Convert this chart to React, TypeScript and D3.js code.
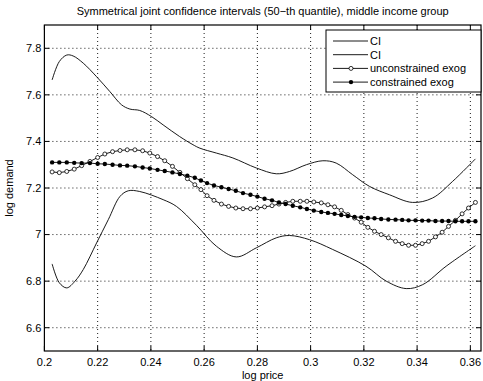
import React, { useEffect, useRef } from 'react';
import * as d3 from 'd3';

// shared price grid for the two marker series
const priceGrid = [
  0.2029, 0.2056, 0.2084, 0.2112, 0.214, 0.2171, 0.22, 0.2227, 0.2256, 0.2284,
  0.2311, 0.234, 0.2369, 0.2396, 0.2425, 0.2452, 0.2481, 0.2509, 0.2537, 0.2565,
  0.2588, 0.2611, 0.2637, 0.2665, 0.2692, 0.2719, 0.2746, 0.2774, 0.28, 0.2827,
  0.2855, 0.2881, 0.2906, 0.2933, 0.2961, 0.2986, 0.3012, 0.304, 0.3065, 0.309,
  0.3115, 0.314, 0.3165, 0.319, 0.3215, 0.324, 0.3265, 0.3292, 0.3319, 0.3344,
  0.3368, 0.3394, 0.3419, 0.3443, 0.3469, 0.3494, 0.3518, 0.3544, 0.3569, 0.3593,
  0.3619,
];

const unconstrained = [
  7.269, 7.266, 7.271, 7.281, 7.296, 7.314, 7.331, 7.346, 7.356, 7.361,
  7.364, 7.364, 7.36, 7.35, 7.335, 7.317, 7.293, 7.267, 7.24, 7.214,
  7.193, 7.167, 7.147, 7.131, 7.121, 7.114, 7.111, 7.111, 7.114, 7.119,
  7.124, 7.131, 7.138, 7.143, 7.143, 7.143, 7.14, 7.136, 7.128, 7.119,
  7.104, 7.086, 7.071, 7.053, 7.031, 7.014, 7.0, 6.986, 6.971, 6.961,
  6.954, 6.954, 6.961, 6.971, 6.99, 7.01, 7.035, 7.061, 7.089, 7.114,
  7.138,
];

const constrained = [
  7.31, 7.31, 7.31, 7.308, 7.307, 7.307, 7.304, 7.303, 7.3, 7.297,
  7.296, 7.293, 7.288, 7.284, 7.278, 7.273, 7.267, 7.26, 7.253, 7.244,
  7.232, 7.221, 7.211, 7.203, 7.196, 7.188, 7.178, 7.171, 7.163, 7.154,
  7.147, 7.138, 7.131, 7.124, 7.117, 7.11, 7.103, 7.097, 7.093, 7.089,
  7.084, 7.08, 7.076, 7.074, 7.071, 7.07, 7.067, 7.065, 7.064, 7.063,
  7.061, 7.061, 7.06, 7.06, 7.058, 7.058, 7.058, 7.057, 7.057, 7.057,
  7.057,
];

const upperX = [
  0.2029, 0.2056, 0.2084, 0.2108, 0.2146, 0.2196, 0.2246, 0.229, 0.2321, 0.2358,
  0.2402, 0.2446, 0.2508, 0.2558, 0.2584, 0.2646, 0.2708, 0.2796, 0.2871, 0.2921,
  0.2984, 0.3046, 0.3096, 0.3158, 0.3221, 0.3296, 0.3383, 0.3458, 0.3533, 0.3619,
];
const upperCI = [
  7.664, 7.743, 7.771, 7.767, 7.736, 7.678, 7.614, 7.557, 7.539, 7.533,
  7.507, 7.471, 7.421, 7.386, 7.371, 7.35, 7.329, 7.286, 7.261, 7.271,
  7.3, 7.317, 7.307, 7.257, 7.207, 7.171, 7.138, 7.157, 7.228, 7.325,
];

const lowerX = [
  0.2029, 0.2056, 0.2084, 0.2115, 0.2146, 0.2196, 0.224, 0.2284, 0.2315, 0.2358,
  0.2446, 0.2496, 0.2571, 0.2646, 0.2721, 0.2796, 0.2871, 0.2921, 0.2996, 0.3083,
  0.3208, 0.3284, 0.3359, 0.3421, 0.3509, 0.3619,
];
const lowerCI = [
  6.874, 6.793, 6.771, 6.8, 6.85, 6.964, 7.064, 7.164, 7.188, 7.185,
  7.15, 7.121, 7.04, 6.95, 6.904, 6.943, 6.986, 6.996, 6.978, 6.936,
  6.864, 6.8, 6.768, 6.785, 6.864, 6.952,
];

const xTicks = [0.2, 0.22, 0.24, 0.26, 0.28, 0.3, 0.32, 0.34, 0.36];
const yTicks = [6.6, 6.8, 7, 7.2, 7.4, 7.6, 7.8];
const legendLabels = ['CI', 'CI', 'unconstrained exog', 'constrained exog'];

const W = 483;
const H = 381;
const FONT = '"Liberation Sans", Arial, Helvetica, sans-serif';

const App: React.FC = () => {
  const ref = useRef<SVGSVGElement>(null);

  useEffect(() => {
    if (!ref.current) return;
    const margin = { top: 25, right: 2, bottom: 30, left: 44.4 };
    const iw = W - margin.left - margin.right;
    const ih = H - margin.top - margin.bottom;

    const svg = d3.select(ref.current);
    svg.selectAll('*').remove();

    const x = d3.scaleLinear().domain([0.2, 0.364]).range([0, iw]);
    const y = d3.scaleLinear().domain([6.5, 7.9]).range([ih, 0]);

    svg.append('text')
      .attr('x', margin.left + iw / 2)
      .attr('y', 15)
      .attr('text-anchor', 'middle')
      .attr('font-family', FONT)
      .attr('font-size', '11px')
      .text('Symmetrical joint confidence intervals (50\u2212th quantile), middle income group');

    const g = svg.append('g').attr('transform', `translate(${margin.left},${margin.top})`);

    g.append('rect').attr('width', iw).attr('height', ih).attr('fill', '#fff');

    // dotted grid
    g.selectAll('.gx')
      .data(xTicks.filter(t => t > 0.2))
      .enter().append('line')
      .attr('x1', d => x(d)).attr('x2', d => x(d))
      .attr('y1', 0).attr('y2', ih)
      .attr('stroke', '#000').attr('stroke-width', 0.9)
      .attr('stroke-dasharray', '1,3');
    g.selectAll('.gy')
      .data(yTicks)
      .enter().append('line')
      .attr('x1', 0).attr('x2', iw)
      .attr('y1', d => y(d)).attr('y2', d => y(d))
      .attr('stroke', '#000').attr('stroke-width', 0.9)
      .attr('stroke-dasharray', '1,3');

    // inward ticks on all sides
    const tl = 5;
    xTicks.forEach(t => {
      g.append('line').attr('x1', x(t)).attr('x2', x(t)).attr('y1', ih).attr('y2', ih - tl).attr('stroke', '#000');
      g.append('line').attr('x1', x(t)).attr('x2', x(t)).attr('y1', 0).attr('y2', tl).attr('stroke', '#000');
    });
    yTicks.forEach(t => {
      g.append('line').attr('x1', 0).attr('x2', tl).attr('y1', y(t)).attr('y2', y(t)).attr('stroke', '#000');
      g.append('line').attr('x1', iw).attr('x2', iw - tl).attr('y1', y(t)).attr('y2', y(t)).attr('stroke', '#000');
    });

    g.selectAll('.xl')
      .data(xTicks)
      .enter().append('text')
      .attr('x', d => x(d))
      .attr('y', ih + 15)
      .attr('text-anchor', 'middle')
      .attr('font-family', FONT)
      .attr('font-size', '11px')
      .text(d => String(d));
    g.selectAll('.yl')
      .data(yTicks)
      .enter().append('text')
      .attr('x', -3)
      .attr('y', d => y(d))
      .attr('dy', '0.35em')
      .attr('text-anchor', 'end')
      .attr('font-family', FONT)
      .attr('font-size', '11px')
      .text(d => String(d));

    g.append('text')
      .attr('x', iw / 2)
      .attr('y', ih + 28)
      .attr('text-anchor', 'middle')
      .attr('font-family', FONT)
      .attr('font-size', '11px')
      .text('log price');
    g.append('text')
      .attr('transform', `translate(${-31},${ih / 2}) rotate(-90)`)
      .attr('text-anchor', 'middle')
      .attr('font-family', FONT)
      .attr('font-size', '11px')
      .text('log demand');

    const smooth = d3.line<[number, number]>()
      .x(d => x(d[0])).y(d => y(d[1]))
      .curve(d3.curveCatmullRom);
    const straight = d3.line<[number, number]>()
      .x(d => x(d[0])).y(d => y(d[1]));

    const upper = upperX.map((v, i) => [v, upperCI[i]] as [number, number]);
    const lower = lowerX.map((v, i) => [v, lowerCI[i]] as [number, number]);
    const unc = priceGrid.map((v, i) => [v, unconstrained[i]] as [number, number]);
    const con = priceGrid.map((v, i) => [v, constrained[i]] as [number, number]);

    [upper, lower].forEach(s => {
      g.append('path').attr('d', smooth(s)).attr('fill', 'none').attr('stroke', '#000').attr('stroke-width', 0.9);
    });

    g.append('path').attr('d', straight(unc)).attr('fill', 'none').attr('stroke', '#000').attr('stroke-width', 0.9);
    g.selectAll('.uc')
      .data(unc)
      .enter().append('circle')
      .attr('cx', d => x(d[0])).attr('cy', d => y(d[1]))
      .attr('r', 2)
      .attr('fill', '#fff').attr('stroke', '#000').attr('stroke-width', 0.8);

    g.append('path').attr('d', straight(con)).attr('fill', 'none').attr('stroke', '#000').attr('stroke-width', 0.9);
    g.selectAll('.cc')
      .data(con)
      .enter().append('circle')
      .attr('cx', d => x(d[0])).attr('cy', d => y(d[1]))
      .attr('r', 2.2)
      .attr('fill', '#000');

    // axes box
    g.append('rect').attr('width', iw).attr('height', ih)
      .attr('fill', 'none').attr('stroke', '#000').attr('stroke-width', 1.2);

    // legend
    const lx = 326 - margin.left;
    const ly = 30 - margin.top;
    const lw = iw - lx;
    const leg = g.append('g').attr('transform', `translate(${lx},${ly})`);
    leg.append('rect').attr('width', lw).attr('height', 62)
      .attr('fill', '#fff').attr('stroke', '#000').attr('stroke-width', 1);
    legendLabels.forEach((lab, i) => {
      const yy = 11 + i * 13.7;
      leg.append('line').attr('x1', 7).attr('x2', 42).attr('y1', yy).attr('y2', yy)
        .attr('stroke', '#000').attr('stroke-width', 0.9);
      if (i === 2) {
        leg.append('circle').attr('cx', 25).attr('cy', yy).attr('r', 2)
          .attr('fill', '#fff').attr('stroke', '#000').attr('stroke-width', 0.8);
      }
      if (i === 3) {
        leg.append('circle').attr('cx', 25).attr('cy', yy).attr('r', 2.2).attr('fill', '#000');
      }
      leg.append('text')
        .attr('x', 44).attr('y', yy).attr('dy', '0.35em')
        .attr('font-family', FONT).attr('font-size', '11px')
        .text(lab);
    });
  }, []);

  return (
    <svg
      ref={ref}
      width={W}
      height={H}
      style={{ position: 'absolute', left: 0, top: 0, background: '#fff' }}
    />
  );
};

export default App;
